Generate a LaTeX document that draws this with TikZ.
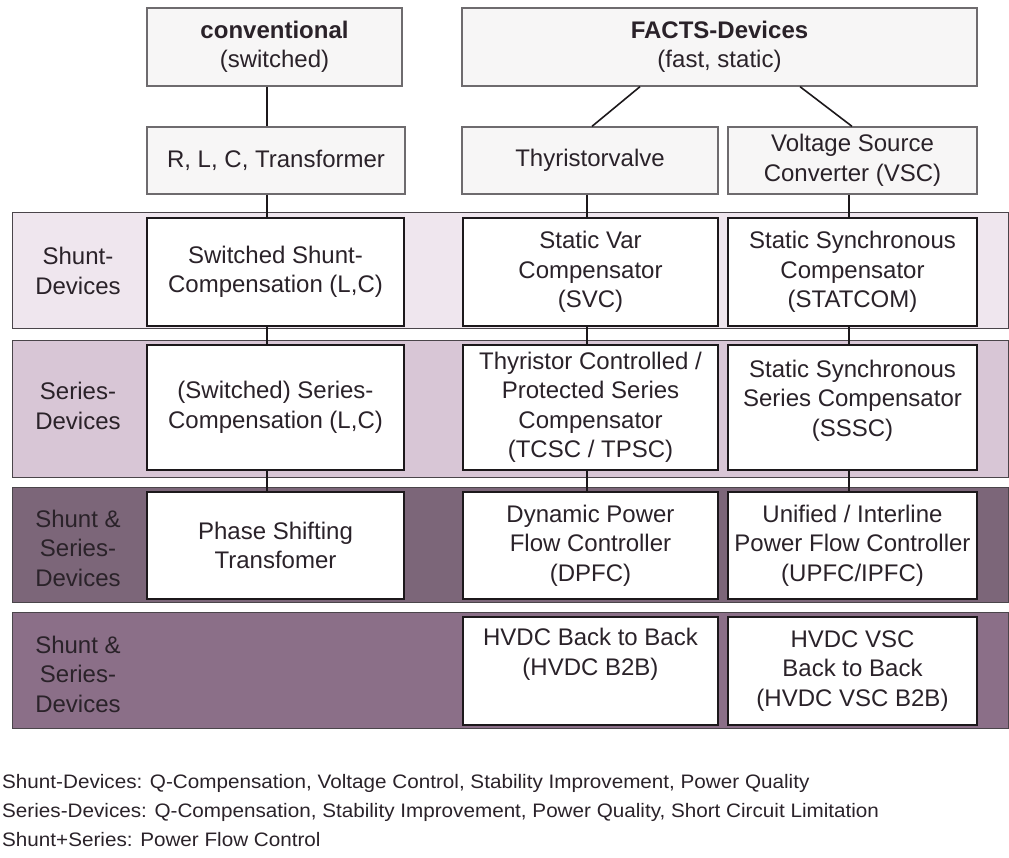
\documentclass[tikz,border=0pt]{standalone}
\usepackage{fontspec}
\setmainfont{Liberation Sans}
\usepackage{graphicx}
\definecolor{txt}{HTML}{2A2229}
\definecolor{topfill}{HTML}{F7F6F6}
\definecolor{topline}{HTML}{6E6B6E}
\definecolor{boxline}{HTML}{1C181B}
\definecolor{bandA}{HTML}{EFE6EE}
\definecolor{bandB}{HTML}{D8C6D6}
\definecolor{bandC}{HTML}{7C6679}
\definecolor{bandD}{HTML}{8B6F88}
\definecolor{bandline}{HTML}{4A454A}
\tikzset{
  boxfont/.style={font=\fontsize{24}{29.5}\selectfont, text=txt},
  topbox/.style={draw=topline, line width=1.3pt, fill=topfill, inner sep=0pt, align=center, boxfont},
  rowbox/.style={draw=boxline, line width=2.4pt, fill=white, inner sep=0pt, align=center, boxfont},
  lbl/.style={inner sep=0pt, align=center, boxfont},
  conn/.style={draw=boxline, line width=1.6pt},
  band/.style={draw=bandline, line width=1pt},
  note/.style={anchor=base west, inner sep=0pt, font=\fontsize{19.5}{22}\selectfont, text=txt}
}
\begin{document}
\begin{tikzpicture}[x=1pt,y=-1pt]
\useasboundingbox (0,0) rectangle (1009,857);
% bands
\filldraw[band, fill=bandA] (12,212) rectangle (1008,328);
\filldraw[band, fill=bandB] (12,340) rectangle (1008,477);
\filldraw[band, fill=bandC] (12,487) rectangle (1008,602);
\filldraw[band, fill=bandD] (12,612) rectangle (1008,728);

% top boxes
\node[topbox, minimum width=255pt, minimum height=78pt] (conv) at (274.5,47)
  {\textbf{conventional}\\(switched)};
\node[topbox, minimum width=515pt, minimum height=78pt] (facts) at (719.5,47)
  {\textbf{FACTS-Devices}\\(fast, static)};
\node[topbox, minimum width=258pt, minimum height=67pt] (rlc) at (276,160.5)
  {R, L, C, Transformer};
\node[topbox, minimum width=256pt, minimum height=67pt] (tv) at (590,160.5)
  {Thyristorvalve};
\node[topbox, minimum width=249pt, minimum height=67pt] (vsc) at (852.5,160.5)
  {Voltage Source\\Converter (VSC)};

% row labels
\node[lbl] (l1) at (78,271) {Shunt-\\Devices};
\node[lbl] (l2) at (78,406) {Series-\\Devices};
\node[lbl] (l3) at (78,548) {Shunt \&\\Series-\\Devices};
\node[lbl] (l4) at (78,674) {Shunt \&\\Series-\\Devices};

% row 1
\node[rowbox, minimum width=257pt, minimum height=108pt] (a1) at (275.5,272)
  {Switched Shunt-\\Compensation (L,C)};
\node[rowbox, minimum width=255pt, minimum height=108pt] (a2) at (590.5,272)
  {Static Var\\Compensator\\(SVC)};
\node[rowbox, minimum width=249pt, minimum height=108pt] (a3) at (852.5,272)
  {Static Synchronous\\Compensator\\(STATCOM)};
% row 2
\node[rowbox, minimum width=257pt, minimum height=125pt] (b1) at (275.5,407.5)
  {(Switched) Series-\\Compensation (L,C)};
\node[rowbox, minimum width=255pt, minimum height=125pt] (b2) at (590.5,407.5)
  {Thyristor Controlled /\\Protected Series\\Compensator\\(TCSC / TPSC)};
\node[rowbox, minimum width=249pt, minimum height=125pt] (b3) at (852.5,407.5)
  {Static Synchronous\\Series Compensator\\(SSSC)\\[-11pt]};
% row 3
\node[rowbox, minimum width=257pt, minimum height=107pt] (c1) at (275.5,545.5)
  {Phase Shifting\\Transfomer};
\node[rowbox, minimum width=255pt, minimum height=107pt] (c2) at (590.5,545.5)
  {Dynamic Power\\Flow Controller\\(DPFC)};
\node[rowbox, minimum width=249pt, minimum height=107pt] (c3) at (852.5,545.5)
  {Unified / Interline\\Power Flow Controller\\(UPFC/IPFC)};
% row 4
\node[rowbox, minimum width=255pt, minimum height=108pt] (d2) at (590.5,671)
  {HVDC Back to Back\\(HVDC B2B)\\\strut};
\node[rowbox, minimum width=249pt, minimum height=108pt] (d3) at (852.5,671)
  {HVDC VSC\\Back to Back\\(HVDC VSC B2B)};

% connectors
\draw[conn] ([xshift=-7.5pt]conv.south) -- ([xshift=-9pt]rlc.north);
\draw[conn] ([xshift=-79.5pt]facts.south) -- ([xshift=2pt]tv.north);
\draw[conn] ([xshift=80.5pt]facts.south) -- ([xshift=-0.5pt]vsc.north);
\draw[conn] ([xshift=-9pt]rlc.south) -- ([xshift=-8.5pt]a1.north);
\draw[conn] ([xshift=-3pt]tv.south) -- ([xshift=-3.5pt]a2.north);
\draw[conn] ([xshift=-3.5pt]vsc.south) -- ([xshift=-3.5pt]a3.north);
\draw[conn] ([xshift=-8.5pt]a1.south) -- ([xshift=-8.5pt]b1.north);
\draw[conn] ([xshift=-3.5pt]a2.south) -- ([xshift=-3.5pt]b2.north);
\draw[conn] ([xshift=-3.5pt]a3.south) -- ([xshift=-3.5pt]b3.north);
\draw[conn] ([xshift=-8.5pt]b1.south) -- ([xshift=-8.5pt]c1.north);
\draw[conn] ([xshift=-3.5pt]b2.south) -- ([xshift=-3.5pt]c2.north);
\draw[conn] ([xshift=-3.5pt]b3.south) -- ([xshift=-3.5pt]c3.north);

% notes
\node[note] (n1) at (2,788) {\scalebox{1.06}[1]{Shunt-Devices: Q-Compensation, Voltage Control, Stability Improvement, Power Quality}};
\node[note] (n2) at (2,817) {\scalebox{1.06}[1]{Series-Devices: Q-Compensation, Stability Improvement, Power Quality, Short Circuit Limitation}};
\node[note] (n3) at (2,846) {\scalebox{1.06}[1]{Shunt+Series: Power Flow Control}};
\end{tikzpicture}
\end{document}
